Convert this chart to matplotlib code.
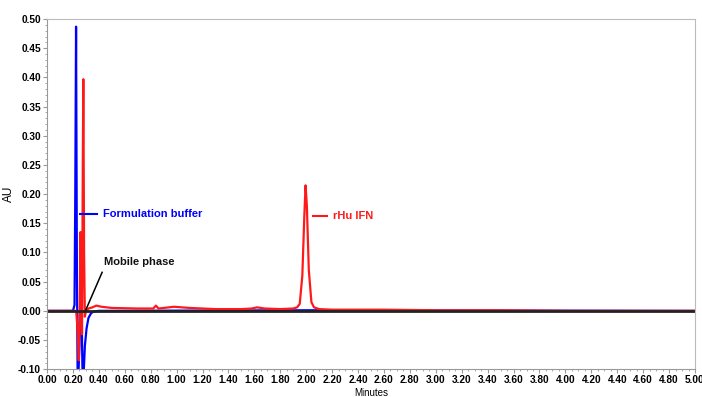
import matplotlib.pyplot as plt
from matplotlib.ticker import MultipleLocator, FormatStrFormatter

plt.rcParams['font.family'] = ['Liberation Sans', 'DejaVu Sans']
plt.rcParams['font.weight'] = 'bold'

# traces (minutes, AU)
blue_t = [0.00, 0.10, 0.20, 0.212, 0.218, 0.224, 0.230, 0.236, 0.242, 0.250, 0.256, 0.262,
          0.268, 0.274, 0.282, 0.292, 0.305, 0.320, 0.340, 0.360, 0.400, 2.00, 5.00]
blue_y = [0.000, 0.000, 0.000, 0.010, 0.200, 0.487, 0.100, -0.110, -0.110, -0.060, 0.020, 0.127,
          -0.020, -0.110, -0.110, -0.060, -0.030, -0.012, -0.004, -0.001, 0.000, 0.001, 0.000]

red_t = [0.00, 0.10, 0.20, 0.225, 0.235, 0.245, 0.252, 0.258, 0.264, 0.270, 0.276, 0.280,
         0.286, 0.292, 0.300, 0.320, 0.350, 0.380, 0.420, 0.500, 0.700, 0.820, 0.840, 0.860,
         0.900, 0.980, 1.100, 1.300, 1.500, 1.580, 1.620, 1.680, 1.800, 1.900, 1.930, 1.950,
         1.970, 1.985, 1.995, 2.005, 2.020, 2.040, 2.060, 2.100, 2.200, 2.600, 3.000, 3.500,
         4.000, 5.00]
red_y = [0.000, 0.000, 0.000, 0.000, -0.030, -0.085, -0.020, 0.135, 0.060, -0.040, 0.250, 0.397,
         0.100, -0.010, 0.000, 0.004, 0.006, 0.009, 0.007, 0.005, 0.004, 0.004, 0.009, 0.004,
         0.005, 0.007, 0.005, 0.003, 0.003, 0.004, 0.006, 0.004, 0.003, 0.004, 0.006, 0.012,
         0.060, 0.160, 0.215, 0.180, 0.070, 0.015, 0.006, 0.003, 0.002, 0.002, 0.001, 0.001,
         0.000, 0.000]

black_t = [0.00, 5.00]
black_y = [0.000, 0.000]

fig = plt.figure(figsize=(7.02, 3.97), dpi=100)
ax = fig.add_axes([0.067, 0.07, 0.923, 0.882])

ax.plot(blue_t, blue_y, color='#0000ff', lw=1.6)
ax.plot(red_t, red_y, color='#ff1a1a', lw=1.6)
ax.plot(black_t, black_y, color='#222222', lw=2.0)

ax.set_xlim(0, 5)
ax.set_ylim(-0.10, 0.50)
ax.xaxis.set_major_locator(MultipleLocator(0.2))
ax.xaxis.set_minor_locator(MultipleLocator(0.05))
ax.yaxis.set_major_locator(MultipleLocator(0.05))
ax.yaxis.set_minor_locator(MultipleLocator(0.01))
ax.xaxis.set_major_formatter(FormatStrFormatter('%.2f'))
ax.yaxis.set_major_formatter(FormatStrFormatter('%.2f'))
ax.tick_params(which='both', direction='out', color='#999999', labelsize=7.3, pad=1.5)
ax.tick_params(which='major', length=3)
ax.tick_params(which='minor', length=1.5)
for s in ax.spines.values():
    s.set_color('#bbbbbb')
ax.spines['bottom'].set_color('#999999')
ax.spines['left'].set_color('#999999')

ax.set_xlabel('Minutes', fontsize=7, labelpad=2)
ax.set_ylabel('AU', fontsize=8.5)
ax.yaxis.set_label_coords(-0.05, 0.5)

# labels
ax.plot([0.255, 0.385], [0.166, 0.166], color='#0000ff', lw=1.5)
ax.text(0.43, 0.166, 'Formulation buffer', color='#0000ff', fontsize=8, va='center')
ax.plot([2.05, 2.16], [0.163, 0.163], color='#ff1a1a', lw=1.5)
ax.text(2.21, 0.163, 'rHu IFN', color='#ff1a1a', fontsize=8, va='center')
ax.plot([0.425, 0.30], [0.066, 0.002], color='black', lw=1.1)
ax.text(0.44, 0.084, 'Mobile phase', color='#111111', fontsize=8, va='center')

plt.savefig('out.png', dpi=100)
